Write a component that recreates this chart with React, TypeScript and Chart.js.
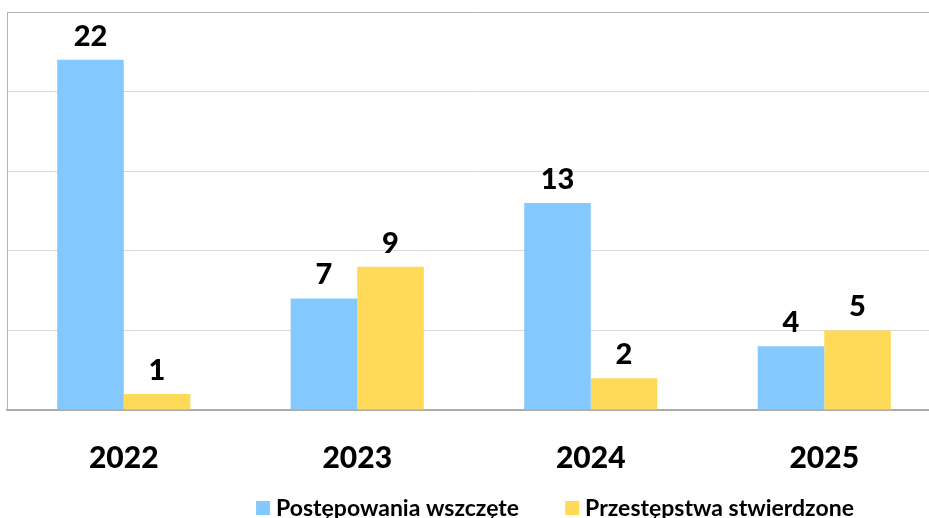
import React, { useEffect, useRef } from "react";
import { Chart, registerables } from "chart.js";

Chart.register(...registerables);

const categories = ["2022", "2023", "2024", "2025"];
const seriesNames = ["Postępowania wszczęte", "Przestępstwa stwierdzone"];
const postepowania = [22, 7, 13, 4];
const przestepstwa = [1, 9, 2, 5];
const colors = ["#83C9FF", "#FFDA58"];

const FONT = "Lato, 'Noto Sans', sans-serif";

const valueLabels = {
  id: "valueLabels",
  afterDatasetsDraw(chart: any) {
    const ctx = chart.ctx;
    ctx.save();
    ctx.font = `900 29px ${FONT}`;
    ctx.fillStyle = "#000";
    ctx.textAlign = "center";
    ctx.textBaseline = "bottom";
    chart.data.datasets.forEach((ds: any, i: number) => {
      const meta = chart.getDatasetMeta(i);
      meta.data.forEach((el: any, j: number) => {
        ctx.fillText(String(ds.data[j]), el.x, el.y - 9);
      });
    });
    ctx.restore();
  },
};

const customLegend = {
  id: "customLegend",
  afterDraw(chart: any) {
    const ctx = chart.ctx;
    ctx.save();
    ctx.font = `700 23px ${FONT}`;
    ctx.textBaseline = "alphabetic";
    ctx.textAlign = "left";
    const box = 14;
    const gapBoxText = 6;
    const gapItems = 46;
    const items = chart.data.datasets.map((ds: any) => ({
      label: ds.label,
      color: ds.backgroundColor,
      w: box + gapBoxText + ctx.measureText(ds.label).width,
    }));
    const total = items.reduce((s: number, it: any) => s + it.w, 0) + gapItems * (items.length - 1);
    let x = 555 - total / 2;
    const baseY = 516;
    items.forEach((it: any) => {
      ctx.fillStyle = it.color;
      ctx.fillRect(x, baseY - 15, box, box);
      ctx.fillStyle = "#000";
      ctx.fillText(it.label, x + box + gapBoxText, baseY);
      x += it.w + gapItems;
    });
    ctx.restore();
  },
};

export default function App() {
  const ref = useRef<HTMLCanvasElement>(null);
  useEffect(() => {
    if (!ref.current) return;
    const chart = new Chart(ref.current, {
      type: "bar",
      data: {
        labels: categories,
        datasets: [
          { label: seriesNames[0], data: postepowania, backgroundColor: colors[0] },
          { label: seriesNames[1], data: przestepstwa, backgroundColor: colors[1] },
        ],
      },
      options: {
        responsive: false,
        animation: false,
        layout: { padding: { left: 7, top: 12, right: 9, bottom: 12 } },
        datasets: { bar: { categoryPercentage: 0.57, barPercentage: 1.0 } },
        plugins: { legend: { display: false }, tooltip: { enabled: false } },
        scales: {
          x: {
            grid: { display: false, drawTicks: false },
            border: { display: true, color: "#ABABAB", width: 2 },
            ticks: {
              padding: 30,
              color: "#000",
              font: { family: FONT, size: 30, weight: "900" },
            },
          },
          y: {
            min: 0,
            max: 25,
            ticks: { display: false, stepSize: 5 },
            grid: {
              drawTicks: false,
              color: (c: any) => (c.tick && c.tick.value === 25 ? "#B4B4B4" : "#D9D9D9"),
            },
            border: { display: true, color: "#B4B4B4", width: 1 },
          },
        },
      },
      plugins: [valueLabels, customLegend],
    } as any);
    return () => chart.destroy();
  }, []);
  return (
    <div style={{ position: "absolute", left: 0, top: 0, width: 929, height: 518, overflow: "hidden", background: "#fff" }}>
      <canvas ref={ref} width={950} height={518} style={{ display: "block" }} />
    </div>
  );
}
